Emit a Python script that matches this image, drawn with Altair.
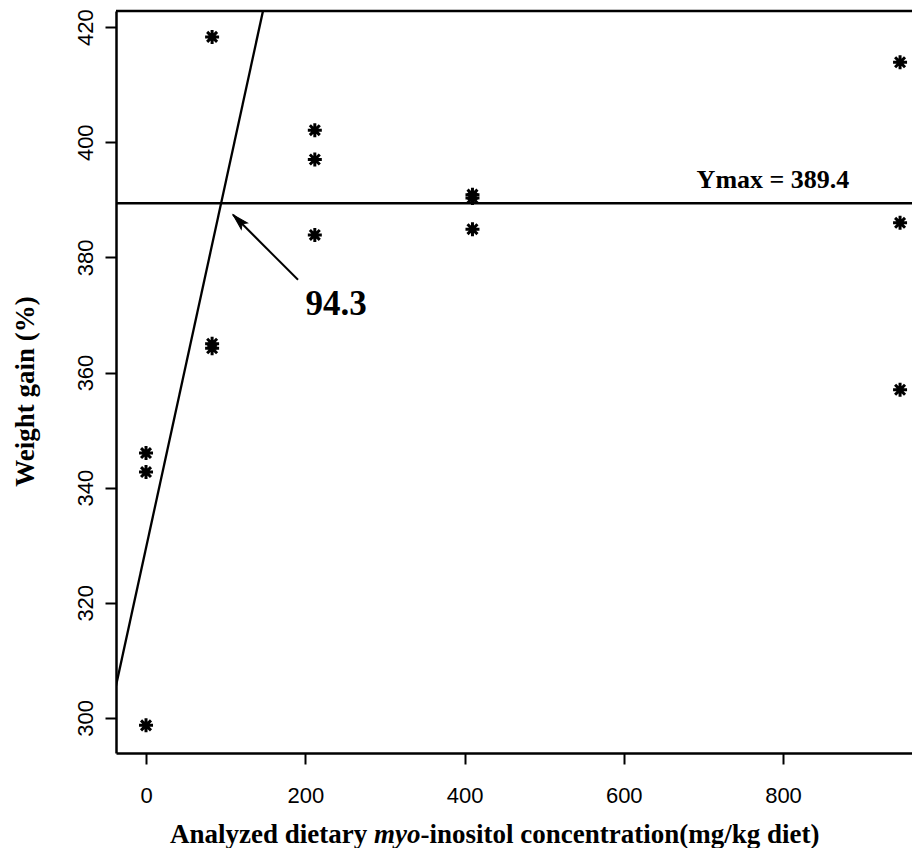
import altair as alt
import pandas as pd

# ---- data ----
dose = [0, 0, 0, 83, 83, 83, 212, 212, 212, 410, 410, 410, 947, 947, 947]
gain = [346.0, 342.7, 298.7, 418.3, 365.0, 364.2, 402.1, 397.0, 383.9,
        390.9, 390.3, 384.9, 413.9, 386.0, 357.0]

x_ticks = [0, 200, 400, 600, 800]
y_ticks = [300, 320, 340, 360, 380, 400, 420]
x_domain = [-37.7, 962]
y_domain = [293.9, 422.8]

breakpoint = 94.3      # broken-line breakpoint
ymax = 389.4           # plateau
slope = 0.635          # slope of the ascending segment

bp_label = ["94.3"]
ymax_label = ["Ymax = 389.4"]
y_title = "Weight gain (%)"
x_title_parts = ["Analyzed dietary ", "myo", "-inositol concentration(mg/kg diet)"]

# annotation anchors (data units)
bp_text_pos = [238.6, 370.0]
ymax_text_pos = [787.4, 392.0]
arrow_tail = [190.9, 376.1]
arrow_tip = [109.3, 387.4]

# ---- derived tables ----
pts = pd.DataFrame({"dose": dose, "gain": gain})

x_end = breakpoint + (y_domain[1] - ymax) / slope + 20
seg = pd.DataFrame({
    "dose": [x_domain[0], x_end],
    "gain": [ymax + slope * (x_domain[0] - breakpoint), ymax + slope * (x_end - breakpoint)],
})
plateau = pd.DataFrame({"x": [x_domain[0]], "x2": [x_domain[1]], "y": [ymax]})
topline = pd.DataFrame({"x": [x_domain[0]], "x2": [x_domain[1]], "y": [y_domain[1]]})
arrow_line = pd.DataFrame({"x": [arrow_tail[0]], "y": [arrow_tail[1]],
                           "x2": [arrow_tip[0]], "y2": [arrow_tip[1]]})
arrow_head = pd.DataFrame({"x": [arrow_tip[0]], "y": [arrow_tip[1]]})
bp_df = pd.DataFrame({"x": [bp_text_pos[0]], "y": [bp_text_pos[1]], "t": bp_label})
ym_df = pd.DataFrame({"x": [ymax_text_pos[0]], "y": [ymax_text_pos[1]], "t": ymax_label})

xs = alt.Scale(domain=x_domain, nice=False, zero=False)
ys = alt.Scale(domain=y_domain, nice=False, zero=False)

xaxis = alt.Axis(values=x_ticks, title=None, grid=False, labelFont="Liberation Sans",
                 labelFontSize=22, labelColor="black", labelPadding=21,
                 domainColor="black", domainWidth=2.5, tickColor="black",
                 tickWidth=2, tickSize=11, labelFlush=False)
yaxis = alt.Axis(values=y_ticks, title=y_title, grid=False, labelFont="Liberation Sans",
                 labelFontSize=22, labelColor="black", labelAngle=270,
                 labelAlign="center", labelBaseline="bottom", labelPadding=8,
                 domainColor="black", domainWidth=2.5, tickColor="black",
                 tickWidth=2, tickSize=11, labelFlush=False,
                 titleFont="Liberation Serif", titleFontWeight="bold", titleFontSize=27,
                 titleColor="black", titleAngle=270, titleAlign="center",
                 titleBaseline="middle", titleX=-91, titleY=380)

stars = alt.Chart(pts).mark_point(
    shape="M-1,0L1,0M0,-1L0,1M-0.71,-0.71L0.71,0.71M-0.71,0.71L0.71,-0.71",
    filled=False, stroke="black", strokeWidth=3, size=196, opacity=1
).encode(x=alt.X("dose:Q", scale=xs, axis=xaxis), y=alt.Y("gain:Q", scale=ys, axis=yaxis))

line = alt.Chart(seg).mark_line(color="black", strokeWidth=2.3, clip=True).encode(
    x=alt.X("dose:Q", scale=xs), y=alt.Y("gain:Q", scale=ys))

plat = alt.Chart(plateau).mark_rule(color="black", strokeWidth=2.5).encode(
    x=alt.X("x:Q", scale=xs), x2="x2:Q", y=alt.Y("y:Q", scale=ys))

top = alt.Chart(topline).mark_rule(color="black", strokeWidth=2.5).encode(
    x=alt.X("x:Q", scale=xs), x2="x2:Q", y=alt.Y("y:Q", scale=ys))

arr = alt.Chart(arrow_line).mark_rule(color="black", strokeWidth=2).encode(
    x=alt.X("x:Q", scale=xs), y=alt.Y("y:Q", scale=ys), x2="x2:Q", y2="y2:Q")

head = alt.Chart(arrow_head).mark_point(
    shape="M0,0L-0.55,2L0,1.6L0.55,2Z", filled=True, fill="black", stroke="black",
    strokeWidth=1, size=256, angle=315, opacity=1
).encode(x=alt.X("x:Q", scale=xs), y=alt.Y("y:Q", scale=ys))

bp_text = alt.Chart(bp_df).mark_text(
    font="Liberation Serif", fontWeight="bold", fontSize=35, color="black",
    align="center", baseline="alphabetic"
).encode(x=alt.X("x:Q", scale=xs), y=alt.Y("y:Q", scale=ys), text="t:N")

ym_text = alt.Chart(ym_df).mark_text(
    font="Liberation Serif", fontWeight="bold", fontSize=26, color="black",
    align="center", baseline="alphabetic"
).encode(x=alt.X("x:Q", scale=xs), y=alt.Y("y:Q", scale=ys), text="t:N")

# x-axis title with italic "myo", placed below the axis
fs = 27
x0 = 54
widths = [7.555 * fs, 1.722 * fs]
title_layers = []
offs = [x0, x0 + widths[0], x0 + widths[0] + widths[1]]
for i, part in enumerate(x_title_parts):
    df = pd.DataFrame({"t": [part]})
    title_layers.append(
        alt.Chart(df).mark_text(
            font="Liberation Serif", fontWeight="bold", fontSize=fs, color="black",
            fontStyle="italic" if i == 1 else "normal",
            align="left", baseline="alphabetic"
        ).encode(x=alt.value(offs[i]), y=alt.value(832), text="t:N")
    )

chart = alt.layer(stars, line, plat, top, arr, head, bp_text, ym_text, *title_layers).properties(
    width=796, height=742,
    autosize=alt.AutoSizeParams(type="none"),
    padding={"left": 108, "top": 3, "right": 0, "bottom": 95},
    background="white",
).configure_view(stroke=None)

chart.save("out.html", embed_options={"renderer": "svg", "actions": False})
